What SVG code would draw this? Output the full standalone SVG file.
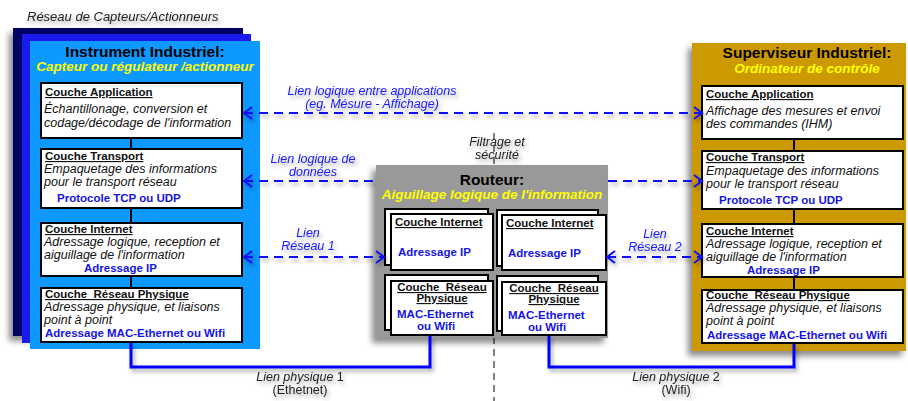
<svg xmlns="http://www.w3.org/2000/svg" width="908" height="401" viewBox="0 0 908 401">
<defs>
<filter id="sh" x="-20%" y="-20%" width="140%" height="140%"><feDropShadow dx="-4" dy="5" stdDeviation="3" flood-color="#000" flood-opacity="0.45"/></filter>
<filter id="tsh" x="-20%" y="-50%" width="140%" height="200%"><feDropShadow dx="2" dy="3" stdDeviation="2" flood-color="#000" flood-opacity="0.35"/></filter>
<marker id="ar" markerUnits="userSpaceOnUse" markerWidth="12" markerHeight="14" refX="9" refY="7" orient="auto-start-reverse"><path d="M1,1 L9,7 L1,13" fill="none" stroke="#1010ff" stroke-width="2"/></marker>
</defs>
<style>
text{font-family:"Liberation Sans",Arial,sans-serif}
.ttl{font-size:15.5px;font-weight:bold;fill:#000;text-anchor:middle}
.sub{font-size:13.5px;font-weight:bold;font-style:italic;fill:#ffff00;text-anchor:middle}
.lt{font-size:11.5px;font-weight:bold;fill:#111;text-decoration:underline}
.bd{font-size:12.5px;font-style:italic;fill:#111}
.bl{font-size:11.5px;font-weight:bold;fill:#1414e6}
.box{fill:#fff;stroke:#000;stroke-width:2}
.vl{stroke:#000;stroke-width:2}
.lbl{font-size:12.5px;font-style:italic;fill:#1a1aff;text-anchor:middle}
.gl{font-size:12.5px;fill:#222;text-anchor:middle}
.dash{fill:none;stroke:#1010ff;stroke-width:2;stroke-dasharray:9,6}
.phy{fill:none;stroke:#0000ff;stroke-width:3}
</style>
<rect width="908" height="401" fill="#fff"/>
<text x="27" y="21" style="font-size:13px;font-style:italic;fill:#222" filter="url(#tsh)">Réseau de Capteurs/Actionneurs</text>
<line x1="494" y1="133" x2="494" y2="401" stroke="#000" stroke-width="1" stroke-dasharray="7,5"/>
<g id="instrument">
<rect x="13" y="28" width="230" height="308" fill="#000066" filter="url(#sh)"/>
<rect x="22" y="34" width="229" height="309" fill="#1a1aee"/>
<rect x="30" y="41" width="230" height="308" fill="#0d99ff"/>
<text class="ttl" x="145" y="57">Instrument Industriel:</text>
<text class="sub" x="145" y="71">Capteur ou régulateur /actionneur</text>
<line class="vl" x1="131" y1="138" x2="131" y2="149"/>
<line class="vl" x1="131" y1="208" x2="131" y2="223"/>
<line class="vl" x1="131" y1="276" x2="131" y2="288"/>
<g id="i-app"><rect class="box" x="41" y="83" width="201" height="55"/>
<text class="lt" x="45" y="96">Couche Application</text>
<text class="bd" x="44" y="113">Échantillonage, conversion et</text>
<text class="bd" x="44" y="127">codage/décodage de l'information</text></g>
<g id="i-tr"><rect class="box" x="41" y="149" width="201" height="59"/>
<text class="lt" x="45" y="160">Couche Transport</text>
<text class="bd" x="44" y="173">Empaquetage des informations</text>
<text class="bd" x="44" y="186">pour le transport réseau</text>
<text class="bl" x="57" y="202">Protocole TCP ou UDP</text></g>
<g id="i-int"><rect class="box" x="41" y="223" width="201" height="53"/>
<text class="lt" x="45" y="233">Couche Internet</text>
<text class="bd" x="44" y="246">Adressage logique, reception et</text>
<text class="bd" x="44" y="259">aiguillage de l'information</text>
<text class="bl" x="84" y="272">Adressage IP</text></g>
<g id="i-phy"><rect class="box" x="41" y="288" width="201" height="54"/>
<text class="lt" x="45" y="298" xml:space="preserve">Couche  Réseau Physique</text>
<text class="bd" x="44" y="311">Adressage physique, et liaisons</text>
<text class="bd" x="44" y="324">point à point</text>
<text class="bl" x="45" y="337">Adressage MAC-Ethernet ou Wifi</text></g>
</g>
<g id="routeur">
<rect x="376" y="165" width="232" height="173" fill="#999" filter="url(#sh)"/>
<text class="ttl" x="492" y="185">Routeur:</text>
<text class="sub" x="492" y="199">Aiguillage logique de l'information</text>
<g id="r-int1"><rect class="box" x="385" y="209" width="103" height="56"/><rect class="box" x="391" y="214" width="102" height="56"/>
<text class="lt" x="395" y="226">Couche Internet</text>
<text class="bl" x="398" y="256">Adressage IP</text></g>
<g id="r-int2"><rect class="box" x="497" y="210" width="101" height="56"/><rect class="box" x="502" y="215" width="104" height="55"/>
<text class="lt" x="506" y="227">Couche Internet</text>
<text class="bl" x="508" y="257">Adressage IP</text></g>
<g id="r-phy1"><rect class="box" x="385" y="275" width="103" height="55"/><rect class="box" x="391" y="281" width="102" height="54"/>
<text class="lt" x="442" y="291" text-anchor="middle" xml:space="preserve">Couche  Réseau</text>
<text class="lt" x="442" y="302" text-anchor="middle">Physique</text>
<text class="bl" x="397" y="318">MAC-Ethernet</text>
<text class="bl" x="436" y="330" text-anchor="middle">ou Wifi</text></g>
<g id="r-phy2"><rect class="box" x="497" y="276" width="101" height="55"/><rect class="box" x="502" y="282" width="104" height="53"/>
<text class="lt" x="554" y="292" text-anchor="middle" xml:space="preserve">Couche  Réseau</text>
<text class="lt" x="554" y="303" text-anchor="middle">Physique</text>
<text class="bl" x="508" y="319">MAC-Ethernet</text>
<text class="bl" x="547" y="331" text-anchor="middle">ou Wifi</text></g>
</g>
<g id="superviseur">
<rect x="692" y="43" width="214" height="308" fill="#cc9900" filter="url(#sh)"/>
<text class="ttl" x="807" y="58">Superviseur Industriel:</text>
<text class="sub" x="807" y="73">Ordinateur de contrôle</text>
<line class="vl" x1="794" y1="139" x2="794" y2="151"/>
<line class="vl" x1="794" y1="209" x2="794" y2="224"/>
<line class="vl" x1="794" y1="277" x2="794" y2="290"/>
<g id="s-app"><rect class="box" x="702" y="86" width="201" height="53"/>
<text class="lt" x="706" y="98">Couche Application</text>
<text class="bd" x="706" y="115">Affichage des mesures et envoi</text>
<text class="bd" x="706" y="128">des commandes (IHM)</text></g>
<g id="s-tr"><rect class="box" x="702" y="151" width="201" height="58"/>
<text class="lt" x="706" y="161">Couche Transport</text>
<text class="bd" x="706" y="175">Empaquetage des informations</text>
<text class="bd" x="706" y="188">pour le transport réseau</text>
<text class="bl" x="719" y="204">Protocole TCP ou UDP</text></g>
<g id="s-int"><rect class="box" x="702" y="224" width="201" height="53"/>
<text class="lt" x="706" y="235">Couche Internet</text>
<text class="bd" x="706" y="248">Adressage logique, reception et</text>
<text class="bd" x="706" y="261">aiguillage de l'information</text>
<text class="bl" x="747" y="274">Adressage IP</text></g>
<g id="s-phy"><rect class="box" x="702" y="290" width="201" height="53"/>
<text class="lt" x="706" y="299" xml:space="preserve">Couche  Réseau Physique</text>
<text class="bd" x="706" y="312">Adressage physique, et liaisons</text>
<text class="bd" x="706" y="325">point à point</text>
<text class="bl" x="707" y="339">Adressage MAC-Ethernet ou Wifi</text></g>
</g>
<g id="connectors">
<g filter="url(#tsh)">
<path class="dash" d="M244,113 H702" marker-start="url(#ar)" marker-end="url(#ar)"/>
<path class="dash" d="M244,181 H376" marker-start="url(#ar)"/>
<path class="dash" d="M608,181 H702" marker-end="url(#ar)"/>
<path class="dash" d="M244,257 H384" marker-start="url(#ar)" marker-end="url(#ar)"/>
<path class="dash" d="M607,257 H702" marker-start="url(#ar)" marker-end="url(#ar)"/>
</g>
<g filter="url(#tsh)">
<path class="phy" d="M131,343 V367 H430 V336"/>
<path class="phy" d="M549,336 V367 H794 V344"/>
</g>
<g filter="url(#tsh)">
<text class="lbl" x="372" y="95">Lien logique entre applications</text>
<text class="lbl" x="372" y="108">(eg. Mésure - Affichage)</text>
<text class="lbl" x="313" y="163">Lien logique de</text>
<text class="lbl" x="313" y="176">données</text>
<text class="lbl" x="308" y="237">Lien</text>
<text class="lbl" x="308" y="250">Réseau 1</text>
<text class="lbl" x="655" y="238">Lien</text>
<text class="lbl" x="655" y="251">Réseau 2</text>
<text class="gl" x="300" y="381"><tspan font-style="italic">Lien physique </tspan>1</text>
<text class="gl" x="300" y="394">(Ethetnet)</text>
<text class="gl" x="676" y="381"><tspan font-style="italic">Lien physique </tspan>2</text>
<text class="gl" x="676" y="394">(Wifi)</text>
<text class="gl" x="497" y="146" font-style="italic">Filtrage et</text>
<text class="gl" x="497" y="159" font-style="italic">sécurité</text>
</g>
</g>
</svg>
